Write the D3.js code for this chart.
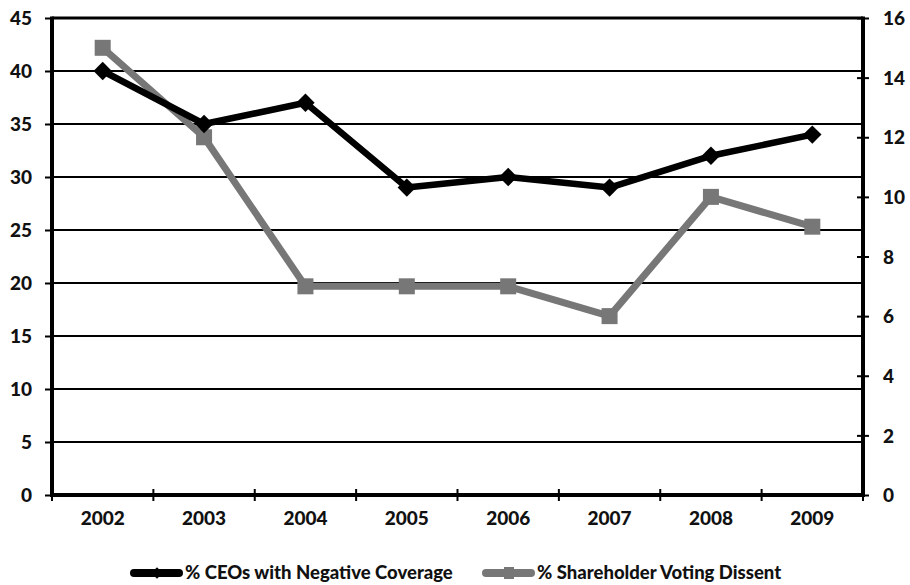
<!DOCTYPE html>
<html>
<head>
<meta charset="utf-8">
<script src="https://cdn.jsdelivr.net/npm/d3@7"></script>
<style>
  html, body { margin: 0; padding: 0; background: #fff; }
  svg text { font-family: Lato, "Open Sans", "Liberation Sans", sans-serif; font-weight: 900; fill: #111; }
</style>
</head>
<body>
<svg id="chart" width="910" height="585"></svg>
<script>
// Yearly observations
const years = ["2002", "2003", "2004", "2005", "2006", "2007", "2008", "2009"];
const ceoNegative = [40, 35, 37, 29, 30, 29, 32, 34];       // left axis
const votingDissent = [15, 12, 7, 7, 7, 6, 10, 9];          // right axis
const leftTicks = [0, 5, 10, 15, 20, 25, 30, 35, 40, 45];
const rightTicks = [0, 2, 4, 6, 8, 10, 12, 14, 16];
const seriesNames = ["% CEOs with Negative Coverage", "% Shareholder Voting Dissent"];

const svg = d3.select("#chart");
const m = { left: 52, right: 863, top: 18, bottom: 495 };

const x = d3.scaleBand().domain(years).range([m.left, m.right]);
const yL = d3.scaleLinear().domain([0, 45]).range([m.bottom, m.top]);
const yR = d3.scaleLinear().domain([0, 16]).range([m.bottom, m.top]);

const grey = "#777777";

// horizontal gridlines
svg.append("g").selectAll("line").data(leftTicks.filter(d => d > 0)).join("line")
  .attr("x1", m.left).attr("x2", m.right)
  .attr("y1", d => yL(d)).attr("y2", d => yL(d))
  .attr("stroke", "#000").attr("stroke-width", d => d === 45 ? 3 : 2);

// left axis
const gL = svg.append("g").attr("transform", `translate(${m.left},0)`)
  .call(d3.axisLeft(yL).tickValues(leftTicks).tickSize(7).tickPadding(13));
gL.select(".domain").attr("stroke-width", 4).attr("d", `M0,${m.top - 1.5}V${m.bottom + 2}`);
gL.selectAll(".tick line").attr("stroke-width", 2);
gL.selectAll(".tick text").style("font-size", "19px").attr("dy", "0.35em");

// right axis
const gR = svg.append("g").attr("transform", `translate(${m.right},0)`)
  .call(d3.axisRight(yR).tickValues(rightTicks).tickSize(6).tickPadding(14));
gR.select(".domain").attr("stroke-width", 4).attr("d", `M0,${m.top - 1.5}V${m.bottom + 2}`);
gR.selectAll(".tick line").attr("stroke-width", 2).attr("x1", -6);
gR.selectAll(".tick text").style("font-size", "19px").attr("dy", "0.35em");

// bottom axis with boundary ticks between categories
const gB = svg.append("g").attr("transform", `translate(0,${m.bottom})`);
gB.append("line").attr("x1", m.left - 2).attr("x2", m.right + 2)
  .attr("stroke", "#000").attr("stroke-width", 4);
const bounds = years.map(d => x(d)).concat([m.right]);
gB.selectAll("line.tk").data(bounds).join("line").attr("class", "tk")
  .attr("x1", d => d).attr("x2", d => d).attr("y1", -6).attr("y2", 6)
  .attr("stroke", "#000").attr("stroke-width", 2);
gB.selectAll("text").data(years).join("text")
  .attr("x", d => x(d) + x.bandwidth() / 2).attr("y", 30)
  .attr("text-anchor", "middle").style("font-size", "19px").text(d => d);

const cx = d => x(d) + x.bandwidth() / 2;

// dissent series (grey squares)
svg.append("path").datum(votingDissent)
  .attr("fill", "none").attr("stroke", grey).attr("stroke-width", 7).attr("stroke-linejoin", "round")
  .attr("d", d3.line().x((d, i) => cx(years[i])).y(d => yR(d)));
svg.append("g").selectAll("rect").data(votingDissent).join("rect")
  .attr("x", (d, i) => cx(years[i]) - 8).attr("y", d => yR(d) - 8)
  .attr("width", 16).attr("height", 16).attr("fill", grey);

// negative coverage series (black diamonds)
svg.append("path").datum(ceoNegative)
  .attr("fill", "none").attr("stroke", "#000").attr("stroke-width", 6.5).attr("stroke-linejoin", "round")
  .attr("d", d3.line().x((d, i) => cx(years[i])).y(d => yL(d)));
svg.append("g").selectAll("path").data(ceoNegative).join("path")
  .attr("transform", (d, i) => `translate(${cx(years[i])},${yL(d)}) rotate(45)`)
  .attr("d", "M-6.5,-6.5H6.5V6.5H-6.5Z").attr("fill", "#000");

// legend
const legend = svg.append("g").attr("transform", "translate(0,573)");
const items = [
  { x0: 130, color: "#000", name: seriesNames[0], marker: "diamond" },
  { x0: 482, color: grey, name: seriesNames[1], marker: "square" }
];
items.forEach(it => {
  legend.append("line").attr("x1", it.x0 + 4).attr("x2", it.x0 + 49)
    .attr("stroke", it.color).attr("stroke-width", 8).attr("stroke-linecap", "round");
  if (it.marker === "diamond") {
    legend.append("path").attr("transform", `translate(${it.x0 + 27},0) rotate(45)`)
      .attr("d", "M-4,-4H4V4H-4Z").attr("fill", it.color);
  } else {
    legend.append("rect").attr("x", it.x0 + 22).attr("y", -6).attr("width", 10).attr("height", 12).attr("fill", it.color);
  }
  legend.append("text").attr("x", it.x0 + 55).attr("y", 0).attr("dy", "0.35em")
    .style("font-size", "18.5px").text(it.name);
});
</script>
</body>
</html>
